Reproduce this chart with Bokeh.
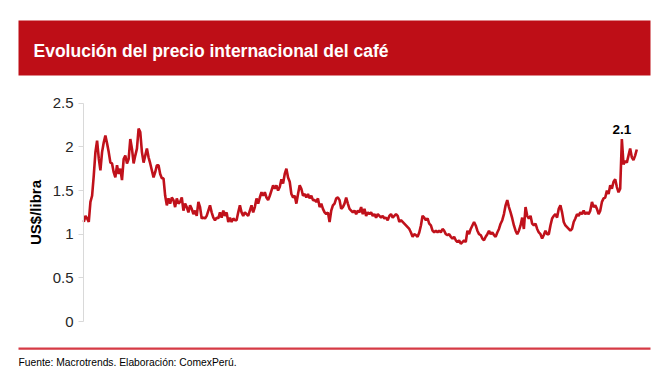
from bokeh.plotting import figure
from bokeh.models import Range1d, BoxAnnotation, Label, FixedTicker, LinearAxis
from bokeh.embed import file_html
from bokeh.resources import INLINE

# ---------------- data ----------------
titulo = "Evolución del precio internacional del café"
fuente = "Fuente: Macrotrends. Elaboración: ComexPerú."
eje_y = "US$/libra"
y_ticks = [0, 0.5, 1, 1.5, 2, 2.5]
y_tick_labels = ["0", "0.5", "1", "1.5", "2", "2.5"]

precio_tramo1 = [1.14, 1.21, 1.18, 1.14, 1.37, 1.44, 1.67, 1.94, 2.07, 1.87, 1.73, 1.94, 2.05, 2.13, 2.04,
                 1.94, 1.82, 1.81, 1.71, 1.65, 1.79, 1.69, 1.75, 1.62, 1.86, 1.90, 1.81, 1.86, 2.09, 1.98,
                 1.81, 1.90, 1.98, 2.21, 2.17, 1.94, 1.82, 1.90, 1.98, 1.88, 1.81, 1.73, 1.65, 1.71, 1.79]
precio_tramo2 = [1.79, 1.69, 1.64, 1.64, 1.44, 1.33, 1.41, 1.35, 1.42, 1.39, 1.31, 1.41, 1.35, 1.37, 1.42,
                 1.27, 1.35, 1.31, 1.25, 1.33, 1.29, 1.23, 1.27, 1.21, 1.37, 1.31, 1.18, 1.19, 1.18, 1.21,
                 1.27, 1.33, 1.25, 1.19, 1.16, 1.19, 1.18, 1.25, 1.19, 1.27, 1.21, 1.25, 1.14, 1.19, 1.14,
                 1.18, 1.16]
precio_tramo3 = [1.16, 1.25, 1.33, 1.25, 1.21, 1.25, 1.23, 1.21, 1.27, 1.33, 1.25, 1.31, 1.41, 1.35, 1.42,
                 1.48, 1.44, 1.48, 1.42, 1.39, 1.44, 1.50, 1.56, 1.52, 1.56, 1.50, 1.54, 1.63, 1.58, 1.69,
                 1.75, 1.65, 1.60, 1.46, 1.42, 1.44, 1.35, 1.46, 1.56, 1.52, 1.44, 1.46, 1.42, 1.46, 1.41,
                 1.44, 1.39]
precio_tramo4 = [1.39, 1.37, 1.41, 1.31, 1.35, 1.29, 1.25, 1.23, 1.25, 1.14, 1.27, 1.33, 1.35, 1.41, 1.42,
                 1.39, 1.29, 1.31, 1.35, 1.42, 1.35, 1.29, 1.27, 1.25, 1.27, 1.23, 1.27, 1.25, 1.31, 1.23,
                 1.29, 1.21, 1.25, 1.23, 1.25, 1.21, 1.23, 1.19, 1.23, 1.21, 1.19, 1.21, 1.18, 1.19, 1.16,
                 1.21, 1.23]
precio_tramo5 = [1.19, 1.21, 1.23, 1.21, 1.14, 1.16, 1.14, 1.12, 1.10, 1.08, 1.06, 1.02, 0.97, 1.00, 0.99,
                 0.97, 1.02, 1.10, 1.21, 1.19, 1.16, 1.18, 1.12, 1.10, 1.04, 1.02, 1.04, 1.02, 1.04, 1.02,
                 1.06, 1.04, 1.00, 0.99, 1.00, 0.97, 0.95, 0.97, 0.93, 0.91, 0.93, 0.89, 0.91, 0.93, 0.91,
                 1.04, 1.00]
precio_tramo6 = [1.06, 1.10, 1.14, 1.10, 1.04, 1.00, 0.99, 0.95, 0.93, 0.97, 1.00, 1.04, 1.00, 1.02, 0.99,
                 0.97, 1.02, 1.06, 1.12, 1.16, 1.23, 1.33, 1.39, 1.31, 1.25, 1.18, 1.10, 1.04, 1.00, 1.04,
                 1.10, 1.19, 1.06, 1.31, 1.21, 1.18, 1.21, 1.12, 1.10, 1.12, 1.06, 1.02, 1.00, 0.95, 0.99,
                 1.04, 1.00]
precio_tramo7 = [1.00, 1.10, 1.18, 1.21, 1.23, 1.19, 1.29, 1.33, 1.25, 1.14, 1.10, 1.08, 1.06, 1.04, 1.06,
                 1.14, 1.18, 1.23, 1.21, 1.25, 1.23, 1.27, 1.23, 1.25, 1.23, 1.27, 1.37, 1.31, 1.33, 1.29,
                 1.23, 1.27, 1.37, 1.41, 1.42, 1.50, 1.46, 1.56, 1.52, 1.60, 1.63, 1.54, 1.48, 1.52, 2.09,
                 1.80, 1.84, 1.82, 1.90, 1.98, 1.88, 1.85, 1.90, 1.97]

precio = (precio_tramo1 + precio_tramo2 + precio_tramo3 + precio_tramo4 +
          precio_tramo5 + precio_tramo6 + precio_tramo7)
periodo = list(range(len(precio)))

# ---------------- layout (pixel geometry) ----------------
ROJO = "#BE0E17"
LINEA = "#C0111B"
FONT = "Liberation Sans"
W, H = 651, 372
X_FIRST, X_LAST = 83.3, 636.3      # px where the series starts / ends
Y_ZERO, Y_TOP = 321.0, 102.7       # px of value 0 and 2.5

n = len(precio)
kx = (X_LAST - X_FIRST) / (n - 1)              # px per period
ky = (Y_ZERO - Y_TOP) / 2.5                    # px per unit
x_start = -X_FIRST / kx
x_end = (n - 1) + (W - X_LAST) / kx
y_start = -(H - Y_ZERO) / ky
y_end = 2.5 + Y_TOP / ky
x_axis_pos = x_start + 83.0 / kx

p = figure(width=W, height=H, x_range=Range1d(x_start, x_end), y_range=Range1d(y_start, y_end),
           x_axis_type=None, y_axis_type=None, toolbar_location=None, output_backend="svg",
           min_border=0, outline_line_color=None)
p.grid.visible = False
p.extra_x_ranges = {"px": Range1d(0, W)}
p.extra_y_ranges = {"px": Range1d(H, 0)}

ax = LinearAxis(fixed_location=x_axis_pos, bounds=(0, 2.5))
ax.ticker = FixedTicker(ticks=y_ticks)
ax.major_label_overrides = {t: l for t, l in zip(y_ticks, y_tick_labels)}
ax.axis_line_color = "#D9D9D9"
ax.major_tick_line_color = "#D9D9D9"
ax.minor_tick_line_color = None
ax.major_tick_in = 0
ax.major_tick_out = 5
ax.major_label_standoff = 5
ax.major_label_text_font = FONT
ax.major_label_text_font_size = "15px"
ax.major_label_text_color = "#262626"
ax.axis_label = eje_y
ax.axis_label_text_font = FONT
ax.axis_label_text_font_size = "15px"
ax.axis_label_text_font_style = "bold"
ax.axis_label_text_color = "#000000"
ax.axis_label_standoff = 6
p.add_layout(ax, "left")

p.line(periodo, precio, line_color=LINEA, line_width=2.6)

# label of the most recent peak
inicio7 = n - len(precio_tramo7)
imax = max(range(inicio7, n), key=lambda i: precio[i])
p.add_layout(Label(x=periodo[imax], y=precio[imax], text=f"{precio[imax]:.1f}",
                   text_font=FONT, text_font_style="bold", text_font_size="13.5px",
                   text_color="#000000", text_align="center", text_baseline="bottom",
                   y_offset=5))

# banner
p.add_layout(BoxAnnotation(left=18, right=650, top=20, bottom=75,
                           x_range_name="px", y_range_name="px",
                           fill_color=ROJO, fill_alpha=1, line_color=None))
p.add_layout(Label(x=33, y=50, x_range_name="px", y_range_name="px", text=titulo,
                   text_color="white", text_font=FONT, text_font_style="bold",
                   text_font_size="17.5px", text_baseline="middle"))

# footer
p.add_layout(BoxAnnotation(left=18, right=650, top=347, bottom=349.2,
                           x_range_name="px", y_range_name="px",
                           fill_color="#D63A45", fill_alpha=1, line_color=None))
p.add_layout(Label(x=18, y=362, x_range_name="px", y_range_name="px", text=fuente,
                   text_font=FONT, text_font_size="10.3px", text_color="#000000",
                   text_baseline="middle"))

open("out.html", "w").write(file_html(p, INLINE))
